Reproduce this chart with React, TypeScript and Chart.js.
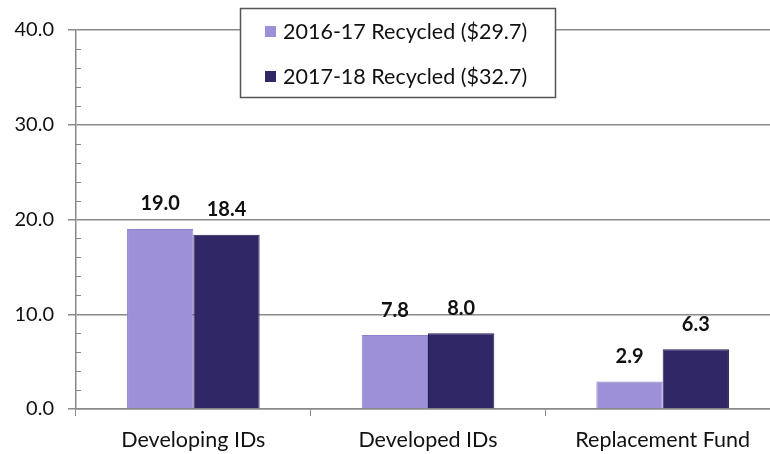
import React, { useEffect, useRef } from "react";
import { Chart, registerables } from "chart.js";

Chart.register(...registerables);

const categories = ["Developing IDs", "Developed IDs", "Replacement Fund"];
const series2016 = [19.0, 7.8, 2.9];
const series2017 = [18.4, 8.0, 6.3];
const seriesLabels = ["2016-17 Recycled ($29.7)", "2017-18 Recycled ($32.7)"];
const yTicks = [0, 10, 20, 30, 40];

const LIGHT = "#9e90d8";
const DARK = "#302866";
const GRID = "#8a8a8a";
const FONT = "Lato, 'Open Sans', sans-serif";

const extrasPlugin = {
  id: "extras",
  afterDatasetsDraw(chart: any) {
    const ctx = chart.ctx;
    const ca = chart.chartArea;
    const y = chart.scales.y;
    // minor ticks
    ctx.save();
    ctx.strokeStyle = GRID;
    ctx.lineWidth = 1;
    for (let v = 0; v <= 40; v += 2) {
      if (v % 10 === 0) continue;
      const py = Math.round(y.getPixelForValue(v)) + 0.5;
      ctx.beginPath();
      ctx.moveTo(ca.left, py);
      ctx.lineTo(ca.left + 5, py);
      ctx.stroke();
    }
    // data labels
    ctx.fillStyle = "#111";
    ctx.font = `bold 20px ${FONT}`;
    ctx.textAlign = "center";
    ctx.textBaseline = "middle";
    chart.data.datasets.forEach((ds: any, di: number) => {
      const meta = chart.getDatasetMeta(di);
      meta.data.forEach((bar: any, i: number) => {
        ctx.fillText(ds.data[i].toFixed(1), bar.x, bar.y - 25);
      });
    });
    // legend box
    const bx = 240, by = 8, bw = 315, bh = 89;
    ctx.fillStyle = "#fff";
    ctx.fillRect(bx, by, bw, bh);
    ctx.strokeStyle = "#555";
    ctx.lineWidth = 1.5;
    ctx.strokeRect(bx + 0.5, by + 0.5, bw, bh);
    const cols = [LIGHT, DARK];
    ctx.font = `21.5px ${FONT}`;
    ctx.textAlign = "left";
    seriesLabels.forEach((t, i) => {
      const cy = 31 + i * 45;
      ctx.fillStyle = cols[i];
      ctx.fillRect(265, cy - 5, 11, 11);
      ctx.fillStyle = "#111";
      ctx.fillText(t, 283, cy + 1);
    });
    ctx.restore();
  },
};

export default function App() {
  const ref = useRef<HTMLCanvasElement | null>(null);
  useEffect(() => {
    if (!ref.current) return;
    const chart = new Chart(ref.current, {
      type: "bar",
      data: {
        labels: categories,
        datasets: [
          {
            label: seriesLabels[0],
            data: series2016,
            backgroundColor: LIGHT,
            borderColor: "#8e82c8",
            borderWidth: 1,
            barPercentage: 1,
            categoryPercentage: 0.565,
          },
          {
            label: seriesLabels[1],
            data: series2017,
            backgroundColor: DARK,
            borderColor: "#241d52",
            borderWidth: 1,
            barPercentage: 1,
            categoryPercentage: 0.565,
          },
        ],
      },
      options: {
        responsive: false,
        animation: false,
        events: [],
        layout: { padding: { left: 0, right: 0, top: 30, bottom: 0 } },
        plugins: { legend: { display: false }, tooltip: { enabled: false } },
        scales: {
          x: {
            grid: {
              drawOnChartArea: false,
              drawTicks: true,
              tickLength: 7,
              offset: true,
              color: GRID,
            },
            border: { color: GRID, width: 1.5 },
            ticks: {
              color: "#111",
              font: { family: FONT, size: 21.5 },
              padding: 11,
            },
            afterFit(scale: any) {
              scale.height = 45;
            },
          },
          y: {
            min: 0,
            max: 40,
            afterBuildTicks(scale: any) {
              scale.ticks = yTicks.map((v) => ({ value: v }));
            },
            grid: {
              color: GRID,
              lineWidth: 1.5,
              tickLength: 8,
            },
            border: { color: GRID, width: 1.5 },
            ticks: {
              color: "#111",
              font: { family: FONT, size: 20 },
              padding: 14,
              callback: (v: any) => Number(v).toFixed(1),
            },
            afterFit(scale: any) {
              scale.width = 76;
            },
          },
        },
      },
      plugins: [extrasPlugin],
    });
    return () => chart.destroy();
  }, []);
  return (
    <div style={{ position: "fixed", left: 0, top: 0, width: 770, height: 454, overflow: "hidden", background: "#fff" }}>
      <canvas ref={ref} width={780} height={454} style={{ display: "block" }} />
    </div>
  );
}
